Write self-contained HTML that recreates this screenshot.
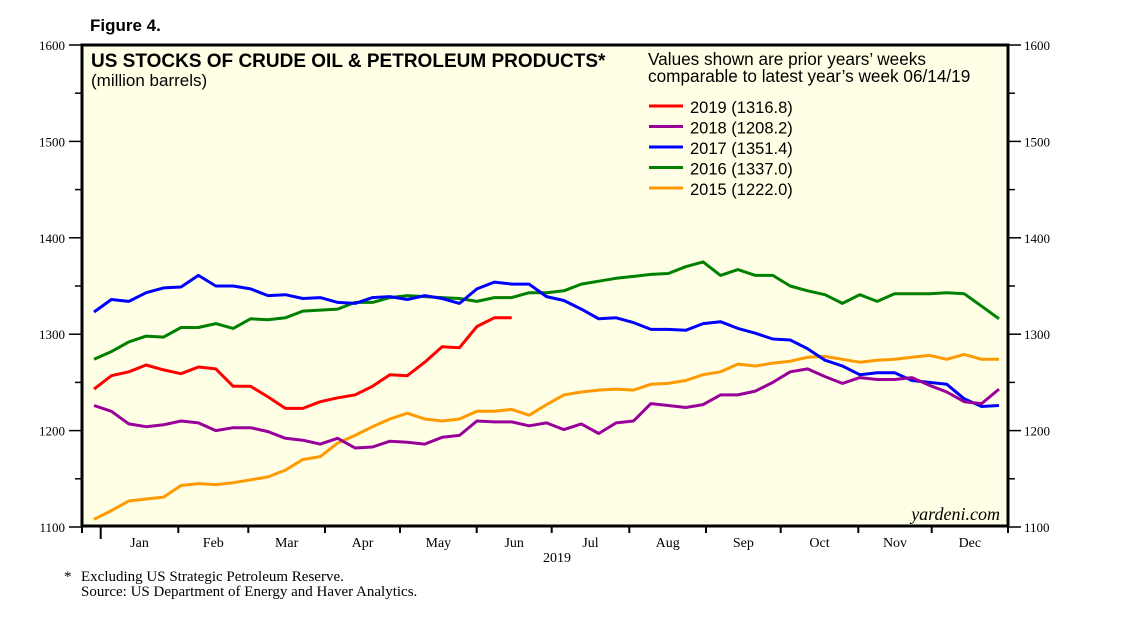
<!DOCTYPE html>
<html><head><meta charset="utf-8"><style>
body{margin:0;background:#fff;}
svg{display:block;font-family:"Liberation Sans",sans-serif;}
.serif{font-family:"Liberation Serif",serif;}
</style></head><body>
<svg id="chart" width="1138" height="621" viewBox="0 0 1138 621">
<text x="90" y="31" font-size="17" font-weight="bold">Figure 4.</text>
<rect x="82" y="45" width="926" height="481" fill="#ffffe6"/>
<g id="series"></g>
<rect x="82" y="45" width="926" height="481" fill="none" stroke="#000" stroke-width="3"/>
<g id="axes"></g>
<text x="91" y="67" font-size="19" font-weight="bold">US STOCKS OF CRUDE OIL &amp; PETROLEUM PRODUCTS*</text>
<text x="91" y="86" font-size="17">(million barrels)</text>
<text x="648" y="65" font-size="17.2">Values shown are prior years’ weeks</text>
<text x="648" y="82" font-size="17.2">comparable to latest year’s week 06/14/19</text>
<g id="legend"></g>
<text x="1000" y="520" font-size="18" font-style="italic" text-anchor="end" class="serif">yardeni.com</text>
<text x="557" y="562" font-size="14" text-anchor="middle" class="serif">2019</text>
<text x="64" y="581" font-size="15" class="serif">*</text>
<text x="81" y="581" font-size="15" class="serif">Excluding US Strategic Petroleum Reserve.</text>
<text x="81" y="596" font-size="15" class="serif">Source: US Department of Energy and Haver Analytics.</text>
</svg>
<script>
const seriesNames = ["2019 (1316.8)","2018 (1208.2)","2017 (1351.4)","2016 (1337.0)","2015 (1222.0)"];
const seriesColors = ["#ff0000","#990099","#0000ff","#008000","#ff9900"];
const s2019 = [1243,1257,1261,1268,1263,1259,1266,1264,1246,1246,1235,1223,1223,1230,1234,1237,1246,1258,1257,1271,1287,1286,1308,1317,1317];
const s2018 = [1226,1220,1207,1204,1206,1210,1208,1200,1203,1203,1199,1192,1190,1186,1192,1182,1183,1189,1188,1186,1193,1195,1210,1209,1209,1205,1208,1201,1207,1197,1208,1210,1228,1226,1224,1227,1237,1237,1241,1250,1261,1264,1256,1249,1255,1253,1253,1255,1247,1240,1230,1228,1243];
const s2017 = [1323,1336,1334,1343,1348,1349,1361,1350,1350,1347,1340,1341,1337,1338,1333,1332,1338,1339,1336,1340,1337,1332,1347,1354,1352,1352,1339,1335,1326,1316,1317,1312,1305,1305,1304,1311,1313,1306,1301,1295,1294,1285,1273,1267,1258,1260,1260,1252,1250,1248,1233,1225,1226];
const s2016 = [1274,1282,1292,1298,1297,1307,1307,1311,1306,1316,1315,1317,1324,1325,1326,1333,1333,1338,1340,1339,1338,1337,1334,1338,1338,1343,1343,1345,1352,1355,1358,1360,1362,1363,1370,1375,1361,1367,1361,1361,1350,1345,1341,1332,1341,1334,1342,1342,1342,1343,1342,1329,1316];
const s2015 = [1108,1117,1127,1129,1131,1143,1145,1144,1146,1149,1152,1159,1170,1173,1187,1195,1204,1212,1218,1212,1210,1212,1220,1220,1222,1216,1227,1237,1240,1242,1243,1242,1248,1249,1252,1258,1261,1269,1267,1270,1272,1276,1277,1274,1271,1273,1274,1276,1278,1274,1279,1274,1274];
const monthLabels = ["Jan","Feb","Mar","Apr","May","Jun","Jul","Aug","Sep","Oct","Nov","Dec"];
const yTicks = [1100,1200,1300,1400,1500,1600];
const yMinor = [1150,1250,1350,1450,1550];
const NS="http://www.w3.org/2000/svg";
const X0=94,X1=999,Y0=527,YMIN=1100,YMAX=1600,YTOP=45;
function xScale(i){return X0+i*(X1-X0)/52;}
function yScale(v){return Y0-(v-YMIN)*(Y0-YTOP)/(YMAX-YMIN);}
function mk(tag,attrs,parent){const e=document.createElementNS(NS,tag);for(const k in attrs)e.setAttribute(k,attrs[k]);parent.appendChild(e);return e;}
const sg=document.getElementById('series');
const allSeries=[s2019,s2018,s2017,s2016,s2015];
for(let k=allSeries.length-1;k>=0;k--){
  const d=allSeries[k].map((v,i)=>(i?'L':'M')+xScale(i).toFixed(1)+','+yScale(v).toFixed(1)).join('');
  const p=mk('path',{d:d,fill:'none',stroke:seriesColors[k],'stroke-width':3,'stroke-linejoin':'round'},sg);
  
  
}
const lg=document.getElementById('legend');
seriesNames.forEach((n,k)=>{
  const y=107+k*20.5;
  const l=mk('line',{x1:649,x2:683,y1:y-1,y2:y-1,stroke:seriesColors[k],'stroke-width':3},lg);
  
  
  const t=mk('text',{x:690,y:y+6,'font-size':16.5},lg);
  t.textContent=n;
  
  
});
const ax=document.getElementById('axes');
yTicks.forEach(v=>{
  const y=yScale(v);
  mk('line',{x1:69,x2:82,y1:y,y2:y,stroke:'#000','stroke-width':1.5},ax);
  mk('line',{x1:1008,x2:1021,y1:y,y2:y,stroke:'#000','stroke-width':1.5},ax);
  const a=mk('text',{x:65,y:y+5,'font-size':13,'text-anchor':'end',class:'serif'},ax);a.textContent=v;
  
  
  const b=mk('text',{x:1024,y:y+5,'font-size':13,class:'serif'},ax);b.textContent=v;
  
  
});
yMinor.forEach(v=>{
  const y=yScale(v);
  mk('line',{x1:75,x2:82,y1:y,y2:y,stroke:'#000','stroke-width':1.5},ax);
  mk('line',{x1:1008,x2:1015,y1:y,y2:y,stroke:'#000','stroke-width':1.5},ax);
});
const mTicks=[100.7,178.3,248.3,325,400,476.7,551.7,629.3,706,780.7,858.3,931.7,1008];
mTicks.forEach((x,i)=>{mk('line',{x1:x,x2:x,y1:527,y2:i===0?539:533,stroke:'#000','stroke-width':2},ax);});
mk('line',{x1:82,x2:82,y1:527,y2:533,stroke:'#000','stroke-width':2},ax);
monthLabels.forEach((m,i)=>{
  const t=mk('text',{x:(mTicks[i]+mTicks[i+1])/2,y:547,'font-size':14,'text-anchor':'middle',class:'serif'},ax);
  t.textContent=m;
  
  
});
</script>
</body></html>
